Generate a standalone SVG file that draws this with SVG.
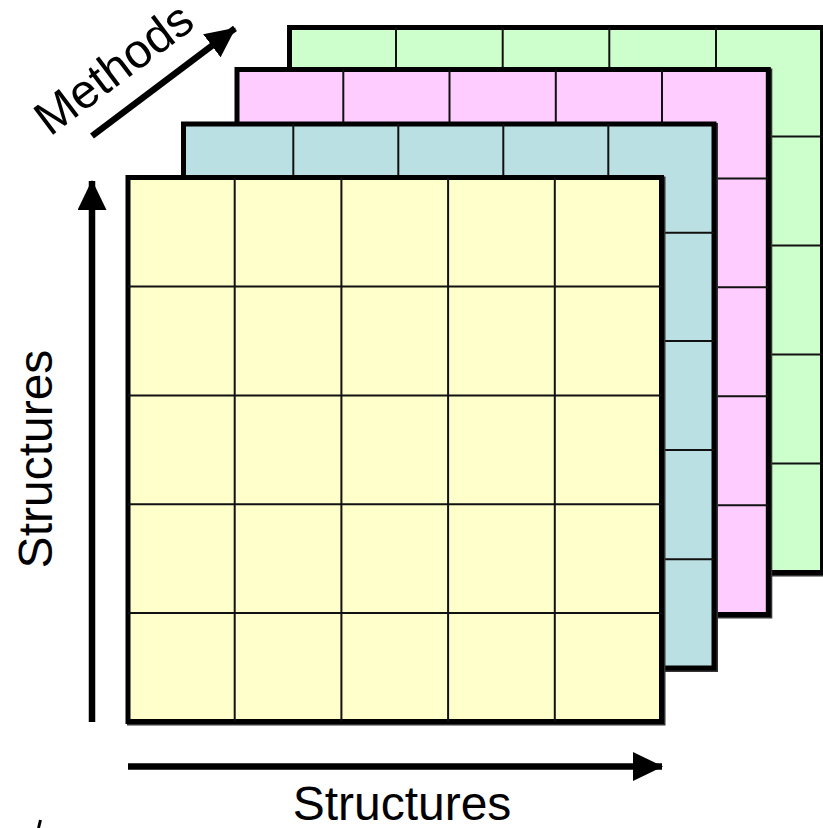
<svg xmlns="http://www.w3.org/2000/svg" width="823" height="828" viewBox="0 0 823 828">
  <style>
    .frame { stroke: #000; stroke-width: 5; }
    .shadow { fill: none; stroke: #333; stroke-width: 5; }
    .grid { stroke: #111; stroke-width: 2; fill: none; }
    .axis { stroke: #000; stroke-width: 6.5; fill: none; marker-end: url(#ah); }
    .label { font-family: "Liberation Sans", Arial, Helvetica, sans-serif; font-size: 48px; fill: #000; }
  </style>
  <defs>
    <marker id="ah" viewBox="0 0 30 29" refX="29" refY="14.5" markerWidth="30" markerHeight="29" markerUnits="userSpaceOnUse" orient="auto">
      <path d="M0,0 L30,14.5 L0,29 Z" fill="#000"/>
    </marker>
  </defs>
  <rect width="823" height="828" fill="#fff"/>

  <g id="layer-green">
    <rect class="shadow" x="291" y="29" width="533" height="545"/>
    <rect class="frame" x="289.5" y="27.5" width="533" height="545" fill="#CCFFCC"/>
    <path class="grid" d="M396,27.5V572.5M502.7,27.5V572.5M609.3,27.5V572.5M716,27.5V572.5M289.5,136.5H822.5M289.5,245.5H822.5M289.5,354.5H822.5M289.5,463.5H822.5"/>
  </g>

  <g id="layer-pink">
    <rect class="shadow" x="238.5" y="71" width="531.3" height="545"/>
    <rect class="frame" x="237" y="69.5" width="531.3" height="545" fill="#FFCCFF"/>
    <path class="grid" d="M343.3,69.5V614.5M449.5,69.5V614.5M555.8,69.5V614.5M662,69.5V614.5M237,178.5H768.3M237,287.3H768.3M237,396.2H768.3M237,505.3H768.3"/>
  </g>

  <g id="layer-blue">
    <rect class="shadow" x="185" y="125.5" width="530.5" height="544"/>
    <rect class="frame" x="183.5" y="124" width="530.5" height="544" fill="#BBE0E3"/>
    <path class="grid" d="M293.3,124V668M398.3,124V668M503.3,124V668M608.3,124V668M183.5,232.8H714M183.5,341H714M183.5,450H714M183.5,559.3H714"/>
  </g>

  <g id="layer-yellow">
    <rect class="shadow" x="129.5" y="179" width="533.5" height="544"/>
    <rect class="frame" x="128" y="177.5" width="533.5" height="544" fill="#FFFFCC"/>
    <path class="grid" d="M234.7,177.5V721.5M341.4,177.5V721.5M448.1,177.5V721.5M554.8,177.5V721.5M128,286.5H661.5M128,395.5H661.5M128,504.2H661.5M128,612.9H661.5"/>
  </g>

  <g id="connectors">
    <line class="axis" x1="92" y1="722" x2="92" y2="181"/>
    <line class="axis" x1="128" y1="766.5" x2="662" y2="766.5"/>
    <line class="axis" x1="92" y1="136" x2="235" y2="28.3"/>
  </g>

  <g id="labels">
    <text class="label" x="0" y="0" transform="translate(50,137) rotate(-37)">Methods</text>
    <text class="label" x="0" y="0" text-anchor="middle" transform="translate(52,459) rotate(-90)">Structures</text>
    <text class="label" x="402" y="820" text-anchor="middle">Structures</text>
  </g>

  <line x1="40.5" y1="820" x2="38.5" y2="828" stroke="#000" stroke-width="3"/>
</svg>
